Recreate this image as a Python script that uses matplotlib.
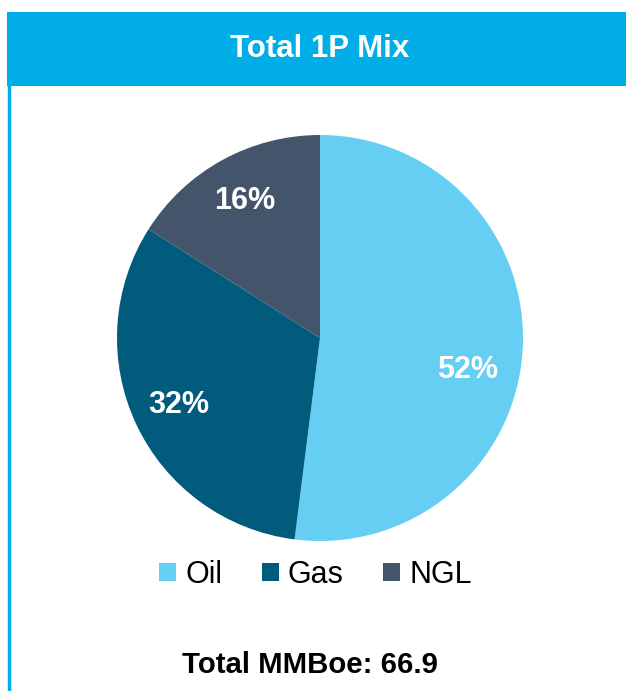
import matplotlib.pyplot as plt
from matplotlib.patches import Rectangle
from matplotlib.lines import Line2D

plt.rcParams['font.family'] = ['Liberation Sans', 'DejaVu Sans']

# DATA
labels = ["Oil", "Gas", "NGL"]
shares = [52, 32, 16]
colors = ["#66CDF3", "#005B7D", "#44546A"]
title = "Total 1P Mix"
footer = "Total MMBoe: 66.9"

W, H = 626, 691
fig = plt.figure(figsize=(W / 100, H / 100), dpi=100)

# HEADER BAR + LEFT BORDER
fig.patches.append(Rectangle((7 / W, 1 - 86 / H), (W - 7) / W, 74 / H,
                             transform=fig.transFigure, facecolor="#00ADE6",
                             edgecolor="none", zorder=0))
fig.lines.append(Line2D([8.5 / W, 8.5 / W], [0, 1 - 86 / H],
                        transform=fig.transFigure, color="#00ADE6", lw=2.5))
fig.text(320 / W, 1 - 49 / H, title, ha="center", va="center",
         color="white", fontsize=22.5, fontweight="bold")

# PIE
cx, cy, r = 320, 338, 203
ax = fig.add_axes([(cx - r) / W, (H - cy - r) / H, 2 * r / W, 2 * r / H])
wedges, _, autotexts = ax.pie(shares, colors=colors, startangle=90, counterclock=False,
                              autopct="%d%%", pctdistance=0.77,
                              textprops=dict(color="white", fontsize=22, fontweight="bold"))
# the big label sits a bit lower than the wedge middle in the original
x, y = autotexts[0].get_position()
autotexts[0].set_position((x - 0.04, y - 0.11))
ax.set_xlim(-1, 1)
ax.set_ylim(-1, 1)
ax.set_aspect("equal")
ax.axis("off")

# LEGEND
fig.legend(wedges, labels, loc="center", bbox_to_anchor=(315.5 / W, 1 - 575 / H),
           ncol=3, frameon=False, fontsize=22, handlelength=0.55, handleheight=0.55,
           handletextpad=0.3, columnspacing=1.3, borderaxespad=0)

# FOOTER
fig.text(310 / W, 1 - 665 / H, footer, ha="center", va="center",
         fontsize=21.2, fontweight="bold", color="black")

fig.savefig("out.png", dpi=100)
